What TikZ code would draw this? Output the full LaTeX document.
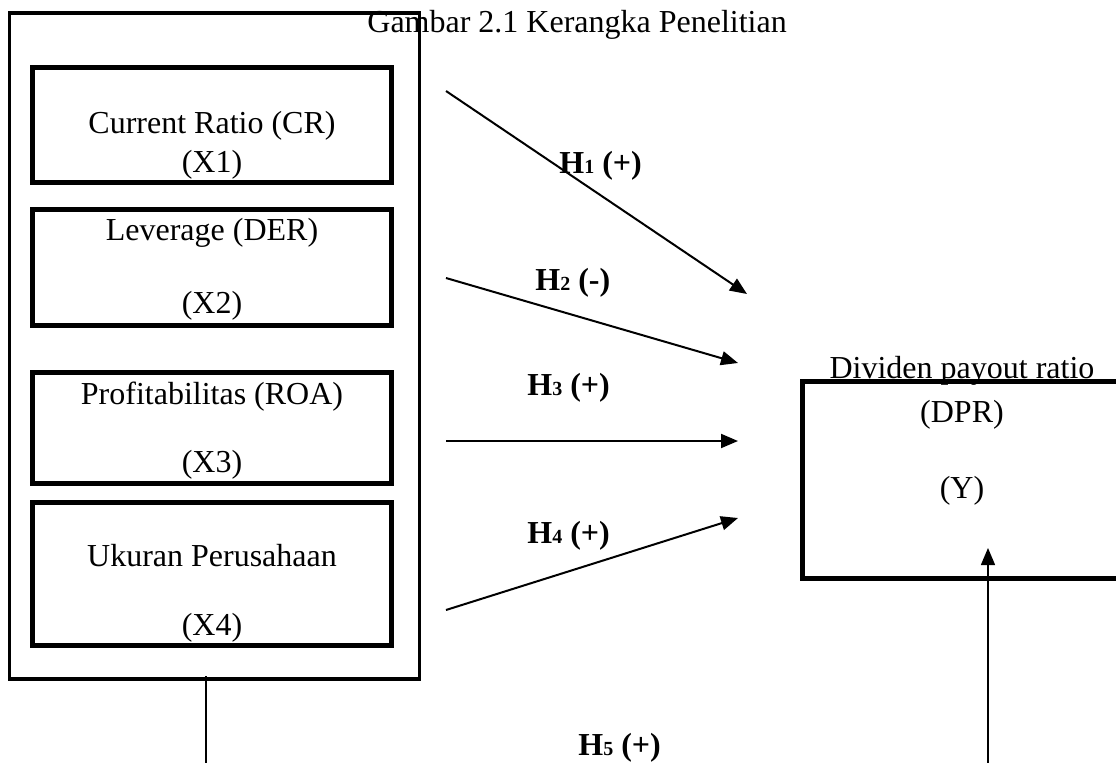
\documentclass[tikz,border=0pt]{standalone}
\usepackage{fontspec}
\setmainfont{Liberation Serif}
\usetikzlibrary{arrows.meta}
\begin{document}
\begin{tikzpicture}[x=0.5pt,y=-0.5pt,
  txt/.style={font=\fontsize{16}{19}\selectfont, inner sep=0pt, anchor=base},
  hyp/.style={font=\fontsize{16}{19}\selectfont\bfseries, inner sep=0pt, anchor=base west},
  thickbox/.style={draw, line width=2.5pt},
  tip/.style={-{Triangle[length=8.5pt,width=7pt]}},
  arr/.style={line width=1pt, tip},
  plain/.style={line width=0.75pt}]
\useasboundingbox (0,0) rectangle (1116,762);
\clip (0,0) rectangle (1116,762);
\newcommand{\hsub}[1]{{\fontsize{10}{12}\selectfont #1}}
% outer box
\coordinate (oTL) at (9.5,13);
\coordinate (oBR) at (419.5,679);
\draw[line width=1pt] (oTL) -- (oTL |- oBR);
\draw[line width=1.7pt] (oTL) -- (oTL -| oBR) -- (oBR) -- (oTL |- oBR) -- cycle;
% title
\node[txt, anchor=base west] (title) at (367,32) {Gambar 2.1 Kerangka Penelitian};
% inner boxes
\draw[thickbox] (32.5,67.5) rectangle (391.5,182.5);
\draw[thickbox] (32.5,209.5) rectangle (391.5,325.5);
\draw[thickbox] (32.5,372) rectangle (391.5,483.5);
\draw[thickbox] (32.5,502) rectangle (391.5,645);
\node[txt] (cr) at (212,133) {Current Ratio (CR)};
\node[txt] (x1) at (212,172) {(X1)};
\node[txt] (der) at (212,240) {Leverage (DER)};
\node[txt] (x2) at (212,313) {(X2)};
\node[txt] (roa) at (212,404) {Profitabilitas (ROA)};
\node[txt] (x3) at (212,472) {(X3)};
\node[txt] (uk) at (212,566) {Ukuran Perusahaan};
\node[txt] (x4) at (212,635) {(X4)};
% right box (right edge beyond the page)
\draw[thickbox] (1140,381.5) -- (802.5,381.5) -- (802.5,578) -- (1140,578);
\node[txt] (dpr1) at (962,378) {Dividen payout ratio};
\node[txt] (dpr2) at (962,422) {(DPR)};
\node[txt] (y) at (962,498) {(Y)};
% arrows
\coordinate (s1) at (446,91);  \coordinate (e1) at (747,294);
\coordinate (s2) at (446,278); \coordinate (e2) at (738,363);
\coordinate (s3) at (446,441); \coordinate (e3) at (738,441);
\coordinate (s4) at (446,610); \coordinate (e4) at (738,518);
\draw[arr] (s1) -- (e1);
\draw[arr] (s2) -- (e2);
\draw[arr] (s3) -- (e3);
\draw[arr] (s4) -- (e4);
\node[hyp] (h1) at (559,173) {H\hsub{1} (+)};
\node[hyp] (h2) at (535,290) {H\hsub{2} (-)};
\node[hyp] (h3) at (527,395) {H\hsub{3} (+)};
\node[hyp] (h4) at (527,543) {H\hsub{4} (+)};
\node[hyp] (h5) at (578,755) {H\hsub{5} (+)};
% bottom connectors
\coordinate (l1) at (206,676); \coordinate (l2) at (206,770);
\draw[plain] (l1) -- (l2);
\coordinate (r1) at (988,770); \coordinate (r2) at (988,548);
\draw[plain, tip] (r1) -- (r2);
\end{tikzpicture}
\end{document}
